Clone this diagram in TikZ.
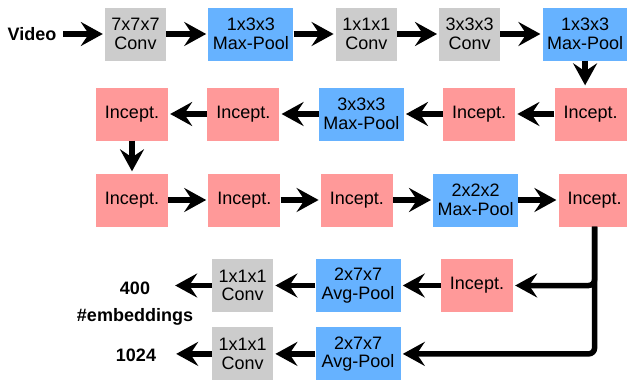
\documentclass[tikz,border=0pt]{standalone}
\usepackage{fontspec}
\setmainfont{Liberation Sans}
\usetikzlibrary{positioning,arrows.meta}
\definecolor{convgray}{HTML}{CCCCCC}
\definecolor{poolblue}{HTML}{66B2FF}
\definecolor{inceptred}{HTML}{FF9999}

\begin{document}
\begin{tikzpicture}[x=1pt,y=-1pt,font=\fontsize{18}{18.5}\selectfont,
  box/.style={minimum height=53pt,inner sep=0pt,align=center},
  conv/.style={box,fill=convgray,minimum width=61pt},
  pool/.style={box,fill=poolblue,minimum width=85pt},
  incept/.style={box,fill=inceptred,minimum width=72pt},
  lbl/.style={font=\fontsize{18}{18.5}\selectfont\bfseries,inner sep=0pt},
  arr/.style={line width=5.5pt,-{Stealth[length=22pt,width=24pt,inset=8pt]},shorten >=2pt},
  node distance=40pt]
\useasboundingbox (0,0) rectangle (627,380);
% first row
\node[lbl,minimum width=62pt] (video) at (32,34) {Video};
\node[conv] (c1) at (135.5,34) {7x7x7\\Conv};
\node[pool,right=42pt of c1] (mp1) {1x3x3\\Max-Pool};
\node[conv,right=42pt of mp1] (c2) {1x1x1\\Conv};
\node[conv,right=42pt of c2] (c3) {3x3x3\\Conv};
\node[pool,right=42pt of c3] (mp2) {1x3x3\\Max-Pool};
% second row, right to left
\node[incept] (in4) at (132,114) {Incept.};
\node[incept,right=39pt of in4] (in3) {Incept.};
\node[pool,right=39pt of in3] (mp3) {3x3x3\\Max-Pool};
\node[incept,right=39pt of mp3] (in2) {Incept.};
\node[incept,right=39pt of in2] (in1) {Incept.};
% third row
\node[incept] (in5) at (132,200) {Incept.};
\node[incept,right=of in5] (in6) {Incept.};
\node[incept,right=of in6] (in7) {Incept.};
\node[pool,right=of in7] (mp4) {2x2x2\\Max-Pool};
\node[incept,right=of mp4] (in8) {Incept.};
% outputs
\node[incept] (in9) at (477,285.5) {Incept.};
\node[pool,left=of in9] (ap1) {2x7x7\\Avg-Pool};
\node[conv,left=42pt of ap1] (cv4) {1x1x1\\Conv};
\node[pool,below=15pt of ap1] (ap2) {2x7x7\\Avg-Pool};
\node[conv,below=15pt of cv4] (cv5) {1x1x1\\Conv};
\node[lbl,minimum width=76pt] (o400) at (135,288) {400};
\node[lbl] (emb) at (135,317) {\#embeddings};
\node[lbl,minimum width=76pt] (o1024) at (136,355) {1024};

\foreach \a/\b in {video/c1,c1/mp1,mp1/c2,c2/c3,c3/mp2,in1/in2,in2/mp3,mp3/in3,in3/in4,
  in4/in5,in5/in6,in6/in7,in7/mp4,mp4/in8,in9/ap1,ap1/cv4,ap2/cv5}
  \draw[arr] (\a) -- (\b);
\draw[arr] (mp2.south) -- (mp2.south |- in1.north);
\draw[arr] (cv4.west) -- (o400.east |- cv4.west);
\draw[arr] (cv5.west) -- (o1024.east |- cv5.west);
\draw[arr,rounded corners=6pt] (in8.south) |- (in9);
\draw[arr,rounded corners=6pt] (in8.south) |- (ap2);
\end{tikzpicture}
\end{document}
